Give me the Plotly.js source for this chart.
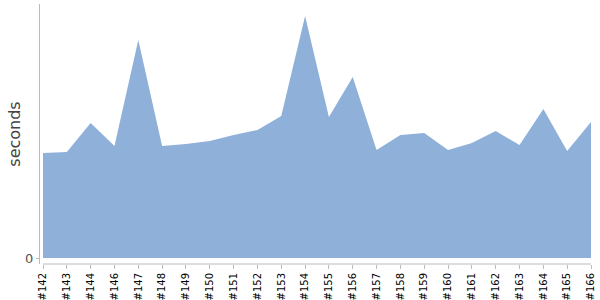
<!DOCTYPE html>
<html>
<head>
<meta charset="utf-8">
<script src="https://cdn.plot.ly/plotly-3.0.1.min.js"></script>
<style>html,body{margin:0;padding:0;background:#fff;}#chart{width:600px;height:300px;}</style>
</head>
<body>
<div id="chart"></div>
<script>
const builds = ["#142","#143","#144","#146","#147","#148","#149","#150","#151","#152","#153","#154","#155","#156","#157","#158","#159","#160","#161","#162","#163","#164","#165","#166"];
const seconds = [105,106,135,112,218,112,114,117,123,128,142,242,141,181,108,123,125,108,115,127,113,149,107,136];
</script>
<script>
const idx = builds.map((_, i) => i);
const trace = {
  x: idx,
  y: seconds,
  type: 'scatter',
  mode: 'none',
  fill: 'tozeroy',
  fillcolor: 'rgb(143,177,217)',
  hoverinfo: 'x+y'
};
const n = builds.length - 1;
const layout = {
  width: 600, height: 300,
  margin: {l: 40, r: 9, t: 4, b: 36, pad: 0},
  paper_bgcolor: '#fff', plot_bgcolor: '#fff',
  showlegend: false,
  font: {family: 'DejaVu Sans, sans-serif'},
  xaxis: {
    range: [-0.1204 * n / 22, n],
    tickmode: 'array', tickvals: idx, ticktext: builds,
    tickangle: -90,
    tickfont: {size: 10, color: '#000'},
    ticks: 'outside', ticklen: 4, tickcolor: '#bbb',
    showline: false,
    showgrid: false, zeroline: false, fixedrange: true
  },
  yaxis: {
    range: [-6, 254],
    tickmode: 'array', tickvals: [0], ticktext: ['0'],
    tickfont: {size: 13, color: '#555'},
    ticks: 'outside', ticklen: 3, tickcolor: '#bbb',
    showline: true, linecolor: '#bbb', linewidth: 1,
    showgrid: false, zeroline: false, fixedrange: true,
    title: {text: 'seconds', font: {size: 16, color: '#444'}, standoff: 0}
  },
  shapes: [{
    type: 'line', xref: 'x', yref: 'paper',
    x0: 0, x1: n, y0: 0, y1: 0,
    line: {color: '#bbb', width: 1}
  }]
};
Plotly.newPlot('chart', [trace], layout, {displayModeBar: false, staticPlot: true});
</script>
</body>
</html>
